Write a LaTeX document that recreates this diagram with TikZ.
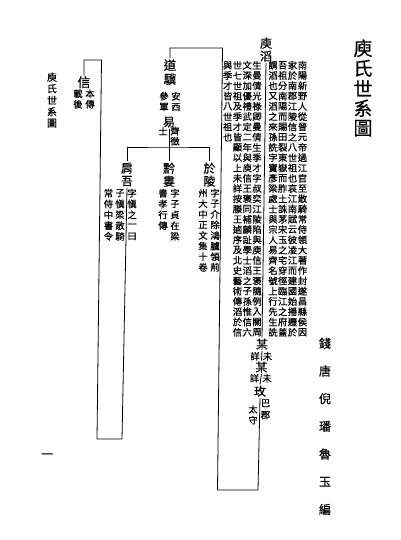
\documentclass[tikz,border=0pt]{standalone}
\usepackage{fontspec}
\newfontfamily\cjk{Noto Sans CJK TC}[FakeBold=0.5]
\newlength\vpitch
\makeatletter
\newcommand\vcol[2][10.27pt]{\vbox{\offinterlineskip\setlength\vpitch{#1}\vcol@a#2\relax}}
\def\vcol@a#1{\ifx\relax#1\else\vbox to\vpitch{\vss\hbox{#1}\vss}\expandafter\vcol@a\fi}
\makeatother
\tikzset{
  ann/.style={inner sep=0pt, anchor=north, font={\cjk\fontsize{9.3pt}{9.3pt}\selectfont}},
  nm/.style={inner sep=0pt, anchor=north, font={\cjk\fontsize{12pt}{12pt}\selectfont}},
  ttl/.style={inner sep=0pt, anchor=north, font={\cjk\fontsize{19pt}{19pt}\selectfont}},
  auth/.style={inner sep=0pt, anchor=north, font={\cjk\fontsize{12pt}{12pt}\selectfont}},
  sml/.style={inner sep=0pt, anchor=north, font={\cjk\fontsize{10pt}{10pt}\selectfont}},
  link/.style={draw=black, line width=0.8pt}
}
\begin{document}
\begin{tikzpicture}[x=1pt,y=-1pt]
\fill[white] (0,0) rectangle (400,540);
\useasboundingbox (0,0) rectangle (400,540);

% titles
\node[ttl] (title) at (363,38) {\vcol[20pt]{庾氏世系圖}};
\node[auth] (author) at (325,329.2) {\vcol[27.7pt]{錢唐倪璠魯玉編}};
\node[sml] (lefttitle) at (52,71.2) {\vcol[11.5pt]{庾氏世系圖}};
\node[inner sep=0pt, font={\cjk\fontsize{12pt}{12pt}\selectfont}] (pageno) at (47,456) {一};

% Yu Tao
\node[nm] (tao) at (266,36.5) {\vcol[13pt]{庾滔}};
\node[ann] (taor1) at (302.5,59.9) {\vcol{南陽新野人從晉元帝過江官至散騎常侍領大著作封遂昌縣侯因}};
\node[ann] (taor2) at (292.5,59.9) {\vcol{家於南郡江陵信之八世祖也哀江南賦云彼凌江而建國始播遷於}};
\node[ann] (taor3) at (282.7,59.9) {\vcol{吾祖分南陽而賜田裂東嶽而胙土誅茅宋玉之宅穿徑臨江之府蓋}};
\node[ann] (taor4) at (273,59.9) {\vcol{謂滔也又滔之來孫詵字寶彥梁處士與宗人易齊名號上行先生詵}};
\node[ann] (taol1) at (257,59.9) {\vcol{生曼倩光祿卿曼倩生季才字叔奕江陵陷與庾信王褒隨例入關周}};
\node[ann] (taol2) at (247.3,59.9) {\vcol{文深加優禮武定二年與庾信王褒同補麟趾學士滔之子孫惟信六}};
\node[ann] (taol3) at (237.5,59.9) {\vcol{世七世祖及季才皆顯以上未詳按滕王逌序及北史藝術傳滔於信}};
\node[ann] (taol4) at (227.7,59.9) {\vcol{與季才皆八世祖也}};

% unknowns and Mei
\node[nm] (mou1) at (262,337.5) {\vcol[13pt]{某}};
\node[ann] (mou1r) at (267.5,350.9) {\vcol{未}};
\node[ann] (mou1l) at (255,350.9) {\vcol{詳}};
\node[nm] (mou2) at (261.5,360.5) {\vcol[13pt]{某}};
\node[ann] (mou2r) at (267,372.9) {\vcol{未}};
\node[ann] (mou2l) at (254.5,372.9) {\vcol{詳}};
\node[nm] (mei) at (260,384.5) {\vcol[13pt]{玫}};
\node[ann] (meir) at (265.5,397) {\vcol[12pt]{巴郡}};
\node[ann] (meil) at (253,403.5) {\vcol[11pt]{太守}};

% Daoji, Yi
\node[nm, font={\cjk\fontsize{12.5pt}{12.5pt}\selectfont}] (daoji) at (170,58) {\vcol[14pt]{道驥}};
\node[ann] (daojir) at (176,90.6) {\vcol[10.8pt]{安西}};
\node[ann] (daojil) at (164,90.6) {\vcol[10.8pt]{參軍}};
\node[nm] (yi) at (169,115.5) {\vcol[13pt]{易}};
\node[ann] (yir) at (175,125.8) {\vcol[10.2pt]{齊徵}};
\node[ann] (yil) at (163,125.8) {\vcol[10.2pt]{士}};

% sons
\node[nm] (jianwu) at (127,161.5) {\vcol[13pt]{肩吾}};
\node[ann] (jianwur) at (132,187.6) {\vcol[10.8pt]{字愼之一曰}};
\node[ann] (jianwul1) at (120,187.6) {\vcol[10.8pt]{子愼梁散騎}};
\node[ann] (jianwul2) at (108.5,187.6) {\vcol[10.8pt]{常侍中書令}};
\node[nm] (qianlou) at (169,161.5) {\vcol[13pt]{黔婁}};
\node[ann] (qianlour) at (175,187.6) {\vcol[10.8pt]{字子貞在梁}};
\node[ann] (qianloul) at (163,187.6) {\vcol[10.8pt]{書孝行傳}};
\node[nm] (yuling) at (209.5,161.5) {\vcol[13pt]{於陵}};
\node[ann] (yulingr) at (215,187.6) {\vcol[10.6pt]{字子介除鴻臚領荊}};
\node[ann] (yulingl) at (203,187.6) {\vcol[10.6pt]{州大中正文集十卷}};

% Xin
\node[nm, font={\cjk\fontsize{13pt}{13pt}\selectfont}] (xin) at (84,75.5) {\vcol[13pt]{信}};
\node[ann] (xinr) at (90,88.3) {\vcol[10.5pt]{本傳}};
\node[ann] (xinl) at (78,88.3) {\vcol[10.5pt]{載後}};

% corner coordinates
\coordinate (c1) at (258,490);
\coordinate (c2) at (217.5,490);
\coordinate (c3) at (222.5,48);
\coordinate (c4) at (170,48);
\coordinate (j0) at (169,147);
\coordinate (d1) at (122,439);
\coordinate (d2) at (97,439);
\coordinate (d3) at (101.5,60);
\coordinate (d4) at (84,60);

% connectors
\draw[link] (tao.south) -- (mou1.north);
\draw[link] (mou1.south) -- (mou2.north);
\draw[link] (mou2.south) -- (mei.north);
\draw[link] (mei.south) -- (c1) -- (c2) -- (c3) -- (c4) -- (daoji.north);
\draw[link] (yi.south) -- (qianlou.north);
\draw[link] (jianwu.north) |- (j0) -| (yuling.north);
\draw[link] (jianwu.south) -- (d1) -- (d2) -- (d3) -- (d4) -- (xin.north);
\end{tikzpicture}
\end{document}
